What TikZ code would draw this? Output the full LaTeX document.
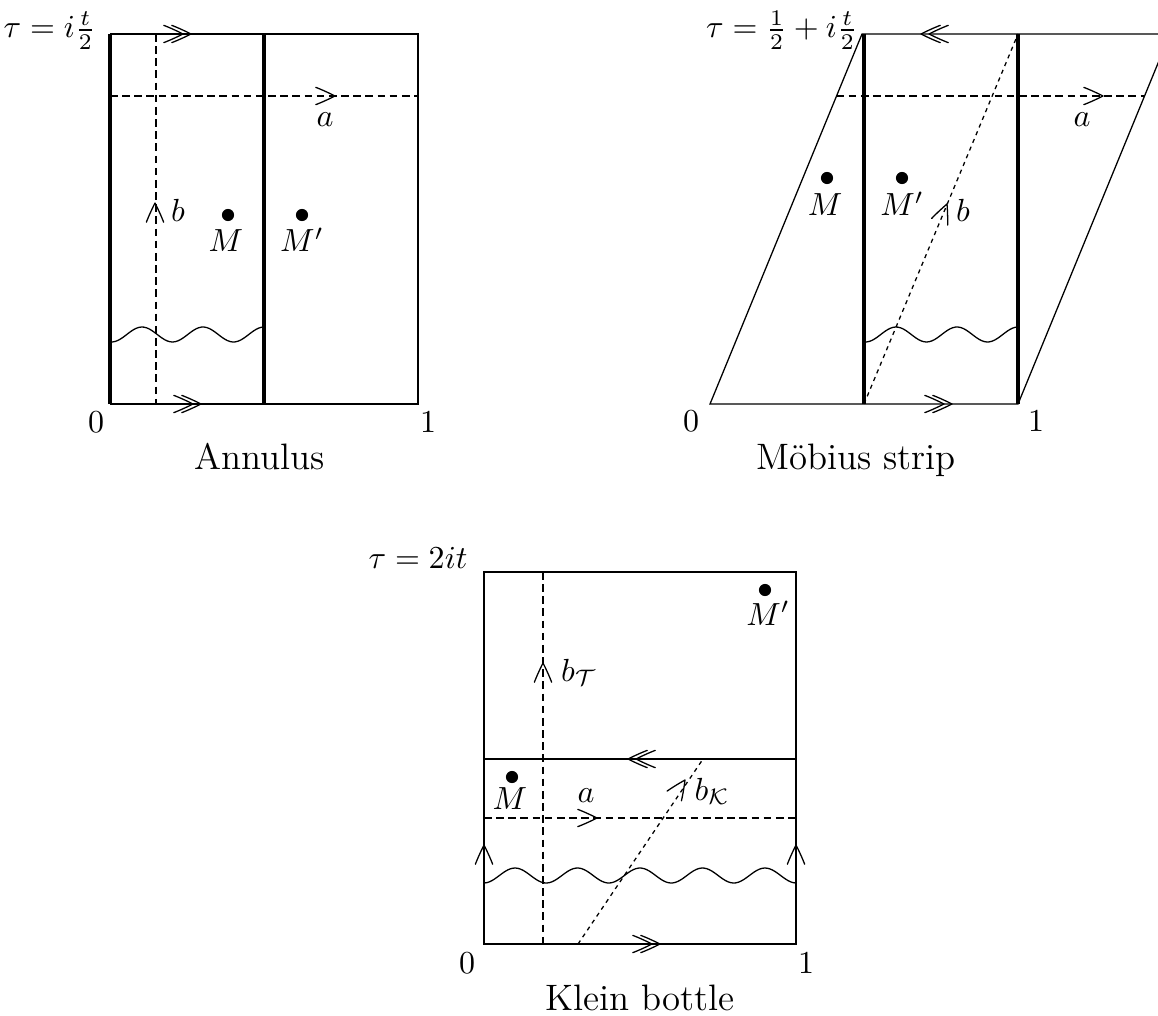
\documentclass[tikz,border=0pt]{standalone}
\begin{document}
\begin{tikzpicture}[x=0.3125pt,y=-0.3125pt,
  bold line/.style={line width=1pt},
  dashline/.style={dash pattern=on 2.4pt off 1.4pt, line width=0.4pt},
  fine dash/.style={dash pattern=on 1.3pt off 1.3pt, line width=0.4pt},
  wave/.style={line width=0.4pt, smooth},
  lbl/.style={inner sep=0pt, anchor=base},
  captiontext/.style={inner sep=0pt, anchor=base, font=\fontsize{11.5}{14}\selectfont},
  blob/.style={circle, fill, inner sep=0pt, minimum size=3.8pt},
  headline/.style={line width=0.4pt, line cap=round, line join=round},
  arrowhd/.pic={\draw[headline]
     (-6pt,2.7pt) .. controls (-3.4pt,1.7pt) and (-1pt,0.5pt) .. (0,0)
     .. controls (-1pt,-0.5pt) and (-3.4pt,-1.7pt) .. (-6pt,-2.7pt);},
  dblarrowhd/.pic={\draw[headline]
     (-6pt,2.7pt) .. controls (-3.4pt,1.7pt) and (-1pt,0.5pt) .. (0,0)
     .. controls (-1pt,-0.5pt) and (-3.4pt,-1.7pt) .. (-6pt,-2.7pt);
     \draw[headline]
     (-8.5pt,2.7pt) .. controls (-5.9pt,1.7pt) and (-3.5pt,0.5pt) .. (-2.5pt,0)
     .. controls (-3.5pt,-0.5pt) and (-5.9pt,-1.7pt) .. (-8.5pt,-2.7pt);},
]
\useasboundingbox (0,0) rectangle (1158,1015);
\clip (0,0) rectangle (1158,1015);

% ---------------- Annulus ----------------
\coordinate (A0) at (110,404);
\coordinate (A1) at (418,404);
\coordinate (AT) at (110,34);
\coordinate (ATR) at (418,34);
\coordinate (AMb) at (264,404);
\coordinate (AMt) at (264,34);
\draw (A0) -- (A1) -- (ATR) -- (AT);
\draw[bold line] (A0) -- (AT);
\draw[bold line] (AMb) -- (AMt);
\draw[dashline] (156,34) -- (156,404);
\draw[dashline] (110,96) -- (418,96);
\draw[wave] plot[domain=110:264, samples=60] (\x,{334.5-7.5*cos((\x-142)/61*360)});
\pic at (191,34) {dblarrowhd};
\pic at (201,404) {dblarrowhd};
\pic at (335,96) {arrowhd};
\pic[rotate=90] at (155,203) {arrowhd};
\node[blob] (AM) at (228,215) {};
\node[blob] (AMp) at (302,215) {};
\node[lbl] (AMl) at (226,252) {$M$};
\node[lbl] (AMpl) at (302,252) {$M'$};
\node[lbl] (Aa) at (325,127) {$a$};
\node[lbl] (Ab) at (178,222) {$b$};
\node[lbl] (A0l) at (96,432) {$0$};
\node[lbl] (A1l) at (428,432) {$1$};
\node[inner sep=0pt, anchor=base east] (Atau) at (96,38) {$\tau=i\frac{t}{2}$};
\node[captiontext] (Acap) at (260,469) {Annulus};

% ---------------- Moebius strip ----------------
\coordinate (B0) at (710,404);
\coordinate (B1) at (1018,404);
\coordinate (BT) at (862,34);
\coordinate (BTR) at (1170,34);
\draw (B0) -- (B1) -- (BTR) -- (BT) -- cycle;
\draw[bold line] (864,404) -- (864,34);
\draw[bold line] (1018,404) -- (1018,34);
\draw[dashline] (836.5,96) -- (1144.5,96);
\draw[fine dash] (864,404) -- (1018,34);
\draw[wave] plot[domain=864:1018, samples=60] (\x,{334.5-7.5*cos((\x-896)/61*360)});
\pic[rotate=180] at (921,34) {dblarrowhd};
\pic at (952,404) {dblarrowhd};
\pic at (1103,96) {arrowhd};
\pic[rotate=67.5] at (947,204) {arrowhd};
\node[blob] (BM) at (827,178) {};
\node[blob] (BMp) at (902,178) {};
\node[lbl] (BMl) at (825,216) {$M$};
\node[lbl] (BMpl) at (902,216) {$M'$};
\node[lbl] (Ba) at (1082,127) {$a$};
\node[lbl] (Bb) at (963,222) {$b$};
\node[lbl] (B0l) at (691,431) {$0$};
\node[lbl] (B1l) at (1036,431) {$1$};
\node[inner sep=0pt, anchor=base east] (Btau) at (858,38) {$\tau=\frac{1}{2}+i\frac{t}{2}$};
\node[captiontext] (Bcap) at (856,469) {M\"obius strip};

% ---------------- Klein bottle ----------------
\coordinate (K0) at (484,944);
\coordinate (K1) at (796,944);
\coordinate (KT) at (484,572);
\coordinate (KTR) at (796,572);
\coordinate (KML) at (484,759);
\coordinate (KMR) at (796,759);
\draw (K0) -- (K1) -- (KTR) -- (KT) -- cycle;
\draw (KML) -- (KMR);
\draw[dashline] (543,572) -- (543,944);
\draw[dashline] (484,818) -- (796,818);
\draw[fine dash] (578,944) -- (703,759);
\draw[wave] plot[domain=484:796, samples=120] (\x,{875.5-7.5*cos((\x-515)/62.5*360)});
\pic[rotate=180] at (628,759) {dblarrowhd};
\pic at (660,944) {dblarrowhd};
\pic at (597,818) {arrowhd};
\pic[rotate=90] at (543,663) {arrowhd};
\pic[rotate=56] at (685,780) {arrowhd};
\pic[rotate=90] at (484,845) {arrowhd};
\pic[rotate=90] at (796,845) {arrowhd};
\node[blob] (KM) at (512,777) {};
\node[blob] (KMp) at (765,590) {};
\node[lbl] (KMl) at (510,809) {$M$};
\node[lbl] (KMpl) at (768,625) {$M'$};
\node[lbl] (Ka) at (586,802) {$a$};
\node[lbl] (KbT) at (579,681) {$b_{\mathcal{T}}$};
\node[lbl] (KbK) at (712,800) {$b_{\mathcal{K}}$};
\node[lbl] (K0l) at (467,973) {$0$};
\node[lbl] (K1l) at (806,973) {$1$};
\node[inner sep=0pt, anchor=base east] (Ktau) at (468,568) {$\tau=2it$};
\node[captiontext] (Kcap) at (640,1010) {Klein bottle};
\end{tikzpicture}
\end{document}
